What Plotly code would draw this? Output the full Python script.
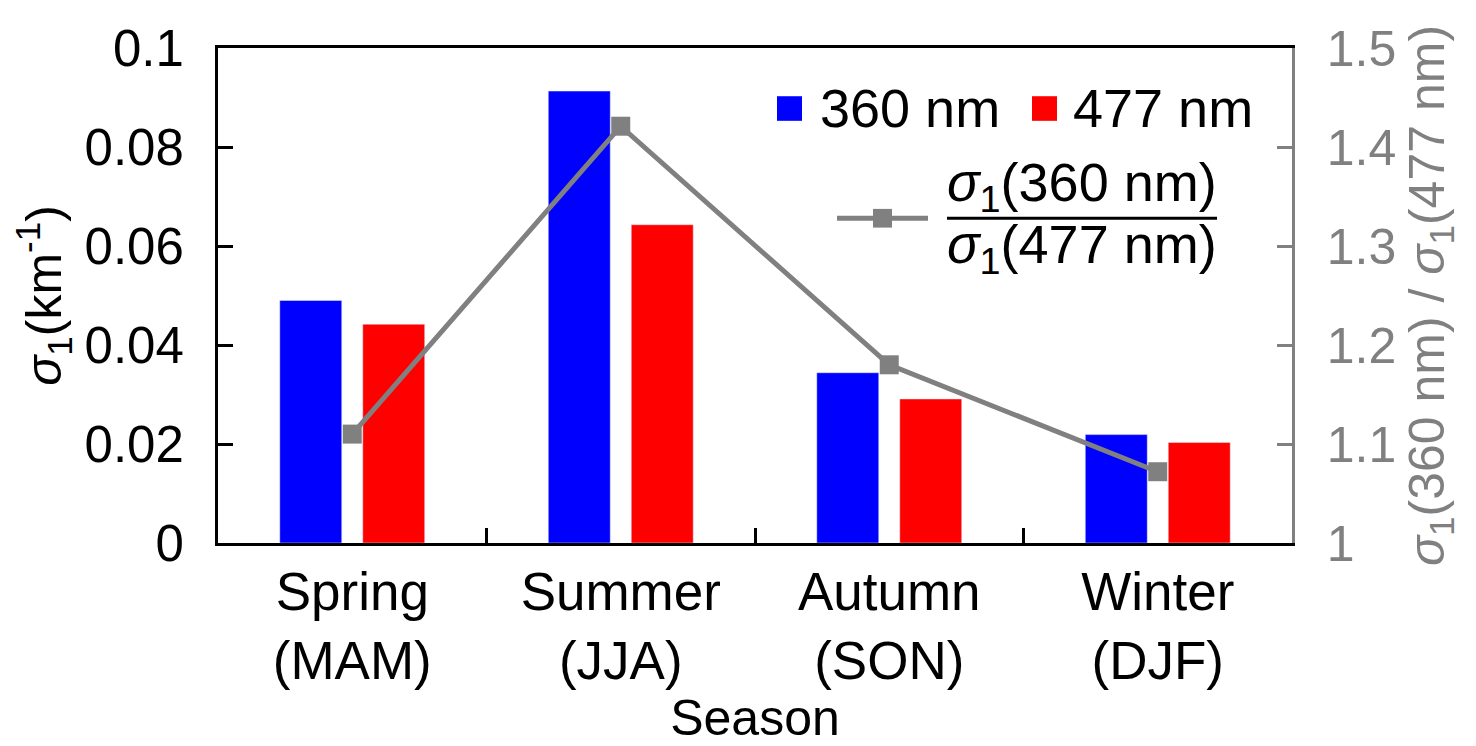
import plotly.graph_objects as go

# seasonal extinction data
seasons = ["Spring", "Summer", "Autumn", "Winter"]
months = ["MAM", "JJA", "SON", "DJF"]
sigma_360 = [0.0490, 0.0913, 0.0344, 0.0219]
sigma_477 = [0.0442, 0.0643, 0.0291, 0.0203]
ratio = [1.110, 1.421, 1.180, 1.072]

labels = [f"{s}<br>({m})" for s, m in zip(seasons, months)]

FONT = "Liberation Sans, Arial, sans-serif"
GRAY = "#808080"
FS = 50
# page body adds an 8px offset, so the figure is made 8px smaller
OFF = 8
W, H = 1476 - OFF, 746 - OFF
L, R, T, B = 218 - OFF, 184, 40 - OFF, 203
# plot area in screen pixels (for placing the legend)
X0, X1, Y0, Y1 = 218, 1292, 40, 543


def px(x):
    return (x - X0) / (X1 - X0)


def py(y):
    return (Y1 - y) / (Y1 - Y0)


fig = go.Figure()
fig.add_trace(go.Bar(x=labels, y=sigma_360, name="360 nm", marker_color="#0000ff"))
fig.add_trace(go.Bar(x=labels, y=sigma_477, name="477 nm", marker_color="#ff0000"))
fig.add_trace(go.Scatter(x=labels, y=ratio, yaxis="y2", mode="lines+markers",
                         line=dict(color=GRAY, width=5),
                         marker=dict(symbol="square", size=19, color=GRAY),
                         name="ratio"))

fig.update_layout(
    width=W, height=H,
    margin=dict(l=L, r=R, t=T, b=B, pad=0),
    paper_bgcolor="white", plot_bgcolor="white",
    font=dict(family=FONT, size=FS, color="black"),
    showlegend=False,
    barmode="group", bargap=0.382, bargroupgap=0.253,
    xaxis=dict(type="category", range=[-0.5, 3.5], tickson="boundaries",
               ticks="inside", ticklen=15, tickwidth=3, tickcolor="black",
               showline=True, linewidth=3, linecolor="black", mirror=True,
               showgrid=False, ticklabelstandoff=0,
               tickfont=dict(size=53, color="black"),
               title=dict(text="Season", standoff=0,
                          font=dict(size=FS, color="black"))),
    yaxis=dict(range=[0, 0.1], dtick=0.02, ticks="inside", ticklen=15,
               tickwidth=3, tickcolor="black", showline=True, linewidth=3,
               linecolor="black", showgrid=False, zeroline=False,
               ticklabelstandoff=21, tickfont=dict(size=51, color="black"),
               title=dict(text="<i>σ</i><sub>1</sub>(km<sup>-1</sup>)", standoff=14,
                          font=dict(size=FS, color="black"))),
    yaxis2=dict(range=[1, 1.5], dtick=0.1, overlaying="y", side="right",
                ticks="inside", ticklen=15, tickwidth=2.5, tickcolor=GRAY,
                showline=True, linewidth=2.5, linecolor=GRAY, showgrid=False,
                zeroline=False, tickfont=dict(size=FS, color=GRAY),
                ticklabelstandoff=22,
                title=dict(text="<i>σ</i><sub>1</sub>(360 nm) / <i>σ</i><sub>1</sub>(477 nm)",
                           font=dict(size=FS, color=GRAY), standoff=14)),
)

# hand-drawn legend
LEG = 54
shapes = [
    dict(type="rect", xref="paper", yref="paper", x0=px(777), x1=px(802),
         y0=py(114), y1=py(89), fillcolor="#0000ff", line_width=0),
    dict(type="rect", xref="paper", yref="paper", x0=px(1032), x1=px(1057),
         y0=py(114), y1=py(89), fillcolor="#ff0000", line_width=0),
    dict(type="line", xref="paper", yref="paper", x0=px(837), x1=px(928),
         y0=py(213), y1=py(213), line=dict(color=GRAY, width=5)),
    dict(type="rect", xref="paper", yref="paper", x0=px(873), x1=px(892),
         y0=py(222.5), y1=py(203.5), fillcolor=GRAY, line_width=0),
    dict(type="line", xref="paper", yref="paper", x0=px(947), x1=px(1217),
         y0=py(213), y1=py(213), line=dict(color="black", width=3)),
]
fig.update_layout(shapes=shapes)

ann = dict(xref="paper", yref="paper", showarrow=False, font=dict(size=LEG))
fig.add_annotation(text="360 nm", x=px(818), y=py(101), xanchor="left", yanchor="middle", **ann)
fig.add_annotation(text="477 nm", x=px(1071), y=py(101), xanchor="left", yanchor="middle", **ann)
fig.add_annotation(text="<i>σ</i><sub>1</sub>(360 nm)", x=px(1082), y=py(180),
                   xanchor="center", yanchor="middle", **ann)
fig.add_annotation(text="<i>σ</i><sub>1</sub>(477 nm)", x=px(1082), y=py(243),
                   xanchor="center", yanchor="middle", **ann)

fig.write_html("out.html")
